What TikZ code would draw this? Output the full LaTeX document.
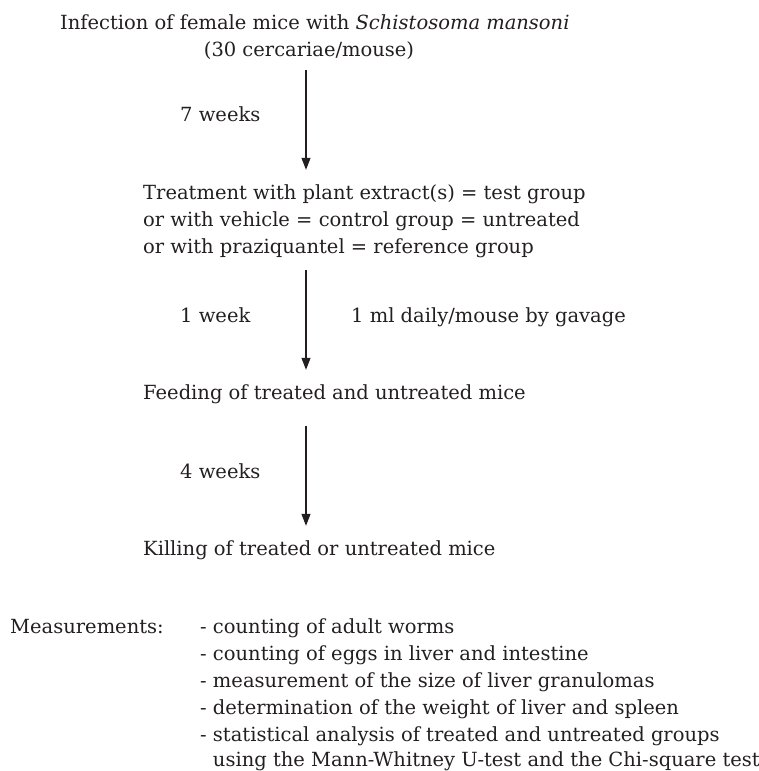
\documentclass[tikz,border=0pt]{standalone}
\usepackage{fontspec}
\setmainfont{DejaVu Serif}
\usepackage{xcolor}
\usetikzlibrary{arrows.meta,positioning}
\definecolor{ink}{RGB}{35,31,32}

\begin{document}
\begin{tikzpicture}[x=1pt,y=1pt,>={Triangle[length=12pt,width=9pt]},
  txt/.style={anchor=base west,inner sep=0pt,text=ink,text height=14pt,text depth=5pt,
    font=\fontsize{19.5}{27}\selectfont},
  flow/.style={->,draw=ink,line width=1.1pt}]
\useasboundingbox (0,0) rectangle (759,-771);
\coordinate (axis) at (306,0);
% infection
\node[txt] (infect) at (60,-29){Infection of female mice with \textit{Schistosoma mansoni}};
\node[txt,anchor=base] (cerc) at (309,-56){(30 cercariae/mouse)};
\node[txt] (wk7) at (180,-121){7 weeks};
% treatment
\node[txt] (treat1) at (143,-199){Treatment with plant extract(s) = test group};
\node[txt] (treat2) at (143,-226){or with vehicle = control group = untreated};
\node[txt] (treat3) at (143,-253){or with praziquantel = reference group};
\node[txt] (wk1) at (180,-322){1 week};
\node[txt] (dose) at (351,-322){1 ml daily/mouse by gavage};
% feeding, killing
\node[txt] (feed) at (143,-399){Feeding of treated and untreated mice};
\node[txt] (wk4) at (180,-478){4 weeks};
\node[txt] (kill) at (143,-555){Killing of treated or untreated mice};
% measurements
\node[txt] (meas) at (10,-633){Measurements:};
\node[txt] (m1) at (200,-633){- counting of adult worms};
\node[txt] (m2) at (200,-660){- counting of eggs in liver and intestine};
\node[txt] (m3) at (200,-687){- measurement of the size of liver granulomas};
\node[txt] (m4) at (200,-714){- determination of the weight of liver and spleen};
\node[txt] (m5) at (200,-741){- statistical analysis of treated and untreated groups};
\node[txt] (m6) at (200,-766){\phantom{- }using the Mann-Whitney U-test and the Chi-square test};
% arrows
\draw[flow,shorten <=9pt,shorten >=15pt] (cerc.south -| axis) -- (treat1.north -| axis);
\draw[flow,shorten <=12pt,shorten >=15pt] (treat3.south -| axis) -- (feed.north -| axis);
\draw[flow,shorten <=22pt,shorten >=15pt] (feed.south -| axis) -- (kill.north -| axis);
\end{tikzpicture}
\end{document}
